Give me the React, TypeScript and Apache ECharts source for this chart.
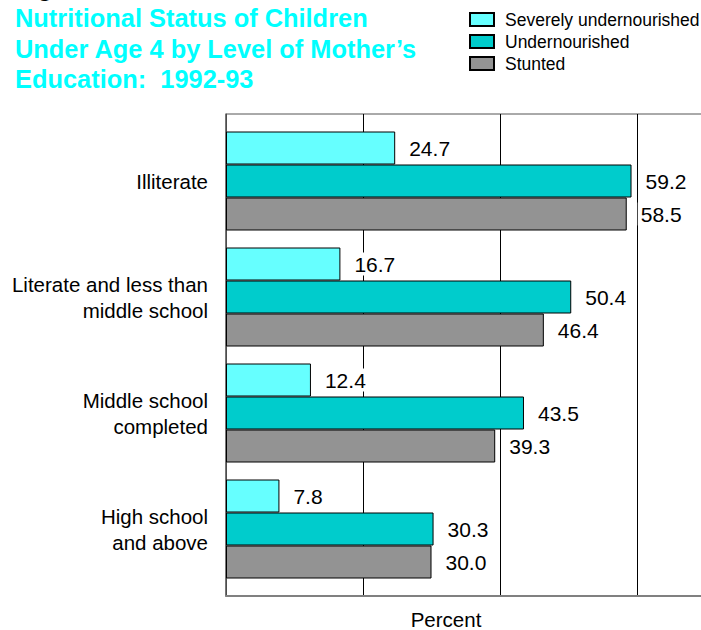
import React, { useEffect, useRef } from "react";
import * as echarts from "echarts";

const categories = [
  "Illiterate",
  "Literate and less than\nmiddle school",
  "Middle school\ncompleted",
  "High school\nand above",
];
const seriesNames = ["Severely undernourished", "Undernourished", "Stunted"];
const severelyUndernourished = [24.7, 16.7, 12.4, 7.8];
const undernourished = [59.2, 50.4, 43.5, 30.3];
const stunted = [58.5, 46.4, 39.3, 30.0];
const seriesColors = ["#66FFFF", "#00CCCC", "#939393"];
const titleText = "Nutritional Status of Children\nUnder Age 4 by Level of Mother’s\nEducation:  1992-93";
const axisName = "Percent";

const FONT = "'Liberation Sans', Arial, Helvetica, sans-serif";

export default function App() {
  const ref = useRef<HTMLDivElement>(null);
  useEffect(() => {
    if (!ref.current) return;
    const chart = echarts.init(ref.current, undefined, { renderer: "svg" });
    const values = [severelyUndernourished, undernourished, stunted];
    chart.setOption({
      animation: false,
      backgroundColor: "#ffffff",
      textStyle: { fontFamily: FONT },
      title: {
        text: titleText,
        left: 15,
        top: 3,
        padding: 0,
        textStyle: {
          color: "#00FFFF",
          fontSize: 25.4,
          fontWeight: "bold",
          lineHeight: 30.5,
          fontFamily: FONT,
        },
      },
      legend: {
        orient: "vertical",
        left: 469,
        top: 10.5,
        padding: 0,
        itemWidth: 24,
        itemHeight: 13,
        itemGap: 4,
        icon: "rect",
        data: seriesNames,
        textStyle: {
          fontSize: 17.5,
          lineHeight: 17,
          color: "#000",
          fontFamily: FONT,
          padding: [0, 0, 0, 6],
        },
      },
      graphic: [
        {
          type: "text",
          left: 15,
          top: -26,
          style: { text: "Figure", font: `bold 25px ${FONT}`, fill: "#000" },
        },
        {
          type: "text",
          x: 446,
          y: 619,
          style: {
            text: axisName,
            font: `20.5px ${FONT}`,
            fill: "#000",
            align: "center",
            verticalAlign: "middle",
          },
        },
      ],
      grid: [
        {
          left: 226,
          top: 114,
          width: 548,
          height: 482,
          outerBoundsMode: "none",
          containLabel: false,
          show: true,
          borderColor: "#555",
          borderWidth: 1,
          backgroundColor: "transparent",
        },
        {
          left: 226,
          top: 123,
          width: 548,
          height: 464,
          outerBoundsMode: "none",
          containLabel: false,
        },
      ],
      xAxis: [
        {
          gridIndex: 0,
          type: "value",
          min: 0,
          max: 80,
          interval: 20,
          axisLabel: { show: false },
          axisTick: { show: false },
          axisLine: { show: true, lineStyle: { color: "#808080", width: 2 } },
          splitLine: { show: true, lineStyle: { color: "#000", width: 1 } },
        },
        { gridIndex: 1, type: "value", min: 0, max: 80, show: false },
      ],
      yAxis: [
        {
          gridIndex: 0,
          type: "value",
          min: 0,
          max: 1,
          axisLabel: { show: false },
          axisTick: { show: false },
          splitLine: { show: false },
          axisLine: { show: true, lineStyle: { color: "#666", width: 1.5 } },
        },
        {
          gridIndex: 1,
          type: "category",
          inverse: true,
          data: categories,
          axisLine: { show: false },
          axisTick: { show: false },
          splitLine: { show: false },
          axisLabel: {
            margin: 18,
            fontSize: 20.5,
            lineHeight: 26,
            color: "#000",
            align: "right",
            fontFamily: FONT,
          },
        },
      ],
      series: seriesNames.map((name, i) => ({
        name,
        type: "bar",
        xAxisIndex: 1,
        yAxisIndex: 1,
        data: values[i],
        barWidth: 33,
        barGap: "0%",
        itemStyle: { color: seriesColors[i], borderColor: "#000", borderWidth: 1 },
        label: {
          show: true,
          position: "right",
          distance: 11,
          fontSize: 21,
          color: "#000",
          backgroundColor: "#fff",
          padding: [1, 3],
          fontFamily: FONT,
          formatter: (p: any) => Number(p.value).toFixed(1),
        },
      })),
    });
    return () => chart.dispose();
  }, []);
  return (
    <div
      ref={ref}
      style={{ position: "fixed", left: 0, top: 0, width: 701, height: 630 }}
    />
  );
}
